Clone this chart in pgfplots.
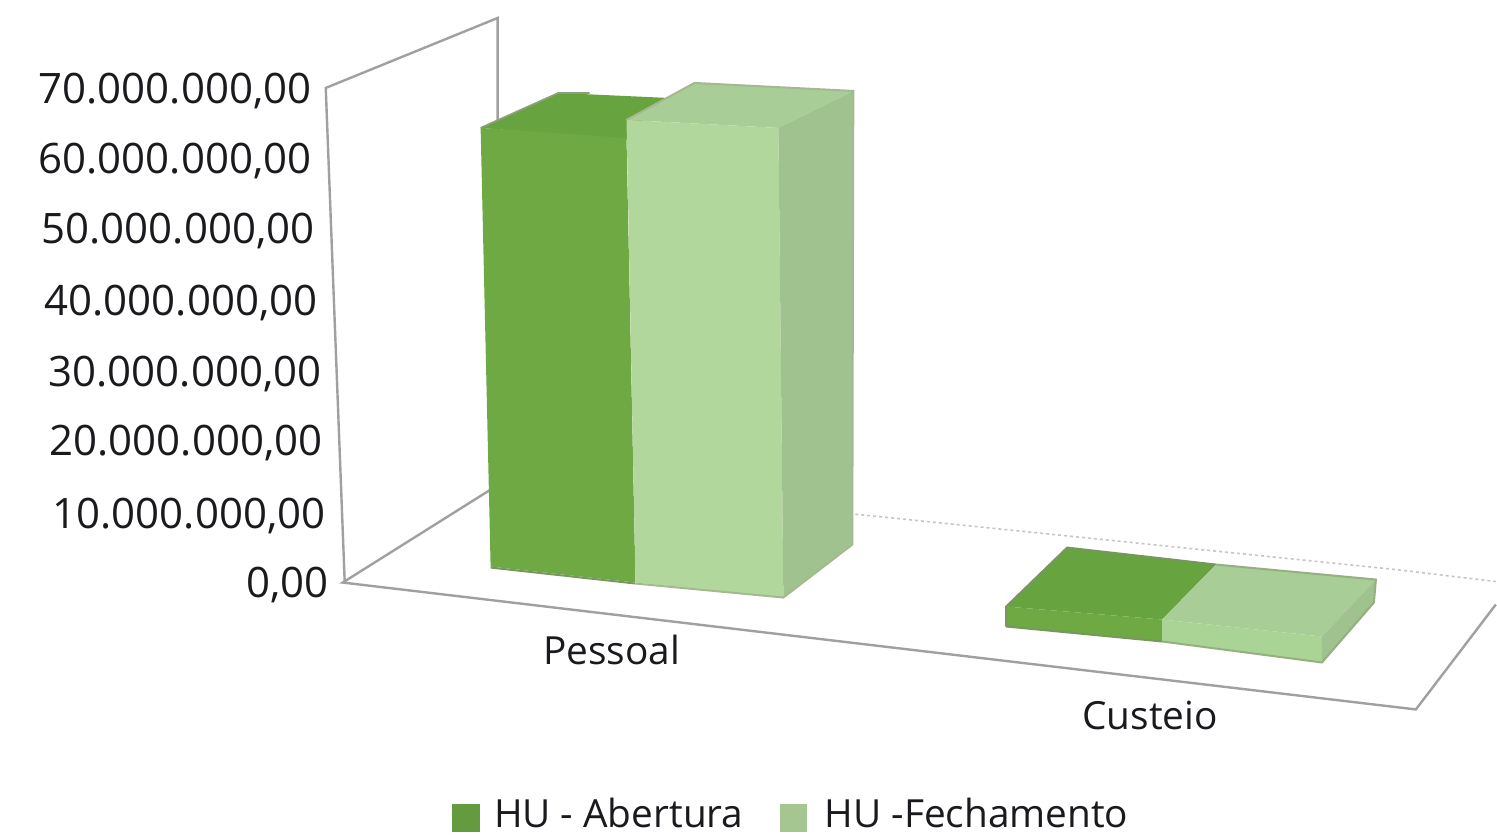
\documentclass[border=0pt]{standalone}
\usepackage{fontspec}
\setmainfont{Open Sans}
\usepackage{pgfplots}
\pgfplotsset{compat=1.18}
\newcommand\F{\fontsize{21pt}{24pt}\selectfont}
\newcommand\G{\fontsize{19.4pt}{24pt}\selectfont}
\definecolor{darkfront}{RGB}{110,169,68}
\definecolor{darktop}{RGB}{103,163,62}
\definecolor{lightfront}{RGB}{178,215,156}
\definecolor{lightfrontb}{RGB}{170,211,150}
\definecolor{lighttop}{RGB}{168,205,150}
\definecolor{lightside}{RGB}{160,194,142}
\definecolor{wallgray}{RGB}{160,160,160}
\definecolor{legdark}{RGB}{100,155,65}
\definecolor{leglight}{RGB}{165,198,145}
\definecolor{txt}{RGB}{25,25,30}
\tikzset{lbl/.style={text=txt, inner sep=0pt}}
\begin{document}
\begin{tikzpicture}
\begin{axis}[
  scale only axis, width=748.5pt, height=418pt,
  xmin=0, xmax=1497, ymin=0, ymax=836, y dir=reverse,
  hide axis, clip=false,
]
% page extent
\addplot[draw=none] coordinates {(0,0) (1497,836)};
% walls and floor
\addplot[wallgray, line width=1.2pt] coordinates {(345,583) (326,88) (498,18) (498,125)};
\addplot[wallgray, line width=1.2pt] coordinates {(491,490) (343,583) (1417,710) (1497,605)};
\addplot[wallgray!60, line width=0.8pt, dash pattern=on 1.5pt off 1.5pt] coordinates {(850,514) (1397,570) (1497,582)};
% Pessoal: HU - Abertura
\addplot[fill=darktop, draw=none] coordinates {(481,128) (559,93) (668,98) (627,140)} -- cycle;
\addplot[fill=darkfront, draw=none] coordinates {(481,128) (627,138) (636,583) (491,567)} -- cycle;
\addplot[color={rgb,255:red,140;green,160;blue,120}, line width=0.9pt] coordinates {(481,128) (559,93) (590,93)};
\addplot[color={rgb,255:red,120;green,150;blue,95}, line width=1pt] coordinates {(491,568) (636,584)};
% Pessoal: HU - Fechamento
\addplot[fill=lighttop, draw=none] coordinates {(627,120) (695,83) (854,91) (779,128)} -- cycle;
\addplot[fill=lightfront, draw=none] coordinates {(627,120) (779,128) (784,598) (636,583)} -- cycle;
\addplot[fill=lightside, draw=none] coordinates {(779,128) (854,91) (853,545) (784,598)} -- cycle;
\addplot[color={rgb,255:red,165;green,185;blue,145}, line width=1pt] coordinates {(627,120) (695,83) (854,91) (853,545) (784,598) (636,584)};
% Custeio: HU - Abertura
\addplot[fill=darktop, draw=none] coordinates {(1007,607) (1068,548) (1217,565) (1163,620)} -- cycle;
\addplot[fill=darkfront, draw=none] coordinates {(1007,607) (1163,620) (1163,642) (1007,627)} -- cycle;
\addplot[color={rgb,255:red,120;green,150;blue,95}, line width=1pt] coordinates {(1007,627) (1007,607) (1068,548) (1217,565)};
\addplot[color={rgb,255:red,120;green,150;blue,95}, line width=1pt] coordinates {(1007,627) (1163,642)};
% Custeio: HU - Fechamento
\addplot[fill=lighttop, draw=none] coordinates {(1163,620) (1217,565) (1377,580) (1323,637)} -- cycle;
\addplot[fill=lightfrontb, draw=none] coordinates {(1163,620) (1323,637) (1323,663) (1163,642)} -- cycle;
\addplot[fill=lightside, draw=none] coordinates {(1323,637) (1377,580) (1375,603) (1323,663)} -- cycle;
\addplot[color={rgb,255:red,150;green,175;blue,130}, line width=1pt] coordinates {(1163,642) (1323,663) (1375,603) (1377,580) (1217,565)};
% value axis labels
\node[lbl,anchor=east] at (axis cs:312,91) {\F 70.000.000,00};
\node[lbl,anchor=east] at (axis cs:312,161) {\F 60.000.000,00};
\node[lbl,anchor=east] at (axis cs:315,231) {\F 50.000.000,00};
\node[lbl,anchor=east] at (axis cs:318,303) {\F 40.000.000,00};
\node[lbl,anchor=east] at (axis cs:322,374) {\F 30.000.000,00};
\node[lbl,anchor=east] at (axis cs:323,443) {\F 20.000.000,00};
\node[lbl,anchor=east] at (axis cs:326,516) {\F 10.000.000,00};
\node[lbl,anchor=east] at (axis cs:329,585) {\F 0,00};
% categories
\node[lbl,anchor=center] at (axis cs:612,650) {\G Pessoal};
\node[lbl,anchor=center] at (axis cs:1151,716) {\G Custeio};
% legend
\addplot[fill=legdark, draw=none] coordinates {(452,805) (480,805) (480,833) (452,833)} -- cycle;
\addplot[fill=leglight, draw=none] coordinates {(781,805) (808,805) (808,833) (781,833)} -- cycle;
\node[lbl,anchor=west] at (axis cs:494,814) {\G HU - Abertura};
\node[lbl,anchor=west] at (axis cs:825,814) {\G HU -Fechamento};
\end{axis}
\end{tikzpicture}
\end{document}
